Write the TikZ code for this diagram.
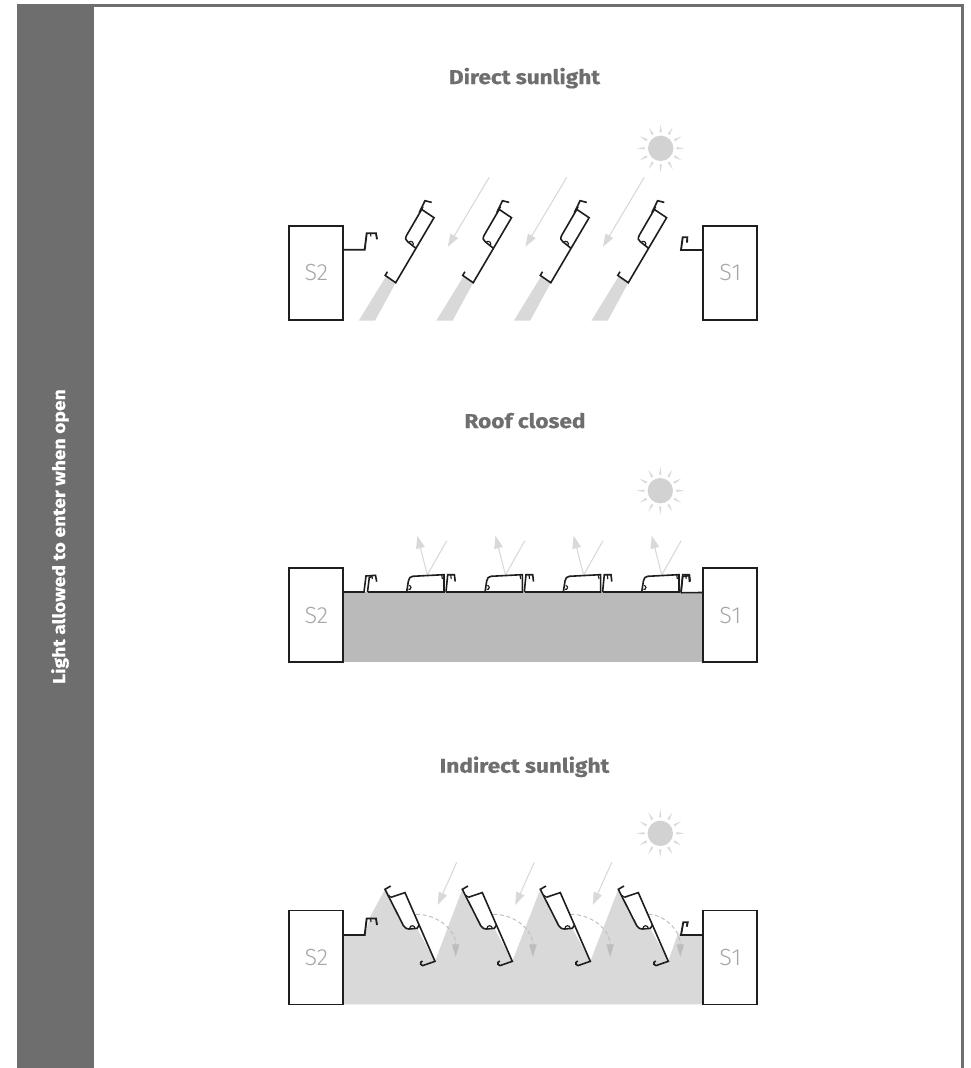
\documentclass[tikz,border=0pt]{standalone}
\usepackage{fontspec}
\setmainfont{Fira Sans}
\newfontfamily\widefont[FakeStretch=1.13,FakeBold=0.5]{Fira Sans}
\newfontfamily\lblfont{Fira Sans Light}
\usetikzlibrary{arrows.meta}
\definecolor{bar}{HTML}{6E6E6E}
\definecolor{ink}{HTML}{1E1E1E}
\definecolor{lite}{HTML}{D9D9D9}
\definecolor{sunc}{HTML}{D2D2D2}
\definecolor{roofc}{HTML}{BABABA}
\definecolor{labelc}{HTML}{A6A6A6}
\definecolor{dashc}{HTML}{BDBDBD}
\tikzset{
  framepart/.style={fill=bar,draw=none},
  titletext/.style={font=\widefont\bfseries\fontsize{15}{18}\selectfont,text=bar,inner sep=0pt,anchor=base},
  sidetext/.style={font=\widefont\bfseries\fontsize{12.8}{15}\selectfont,text=white,inner sep=0pt,rotate=90,anchor=base},
  boxlabel/.style={draw=ink,line width=1.25pt,fill=white,inner sep=0pt,font=\lblfont\fontsize{17.5}{20}\selectfont,text=labelc},
  profile/.style={draw=ink,line width=1.2pt,line join=miter},
  thick profile/.style={draw=ink,line width=1.4pt,line join=miter},
  thin profile/.style={draw=ink,line width=.85pt},
  lightfill/.style={fill=lite,draw=none},
  ray/.style={draw=lite,line width=.8pt,-{Triangle[length=9.5pt,width=6.5pt,fill=lite]}},
  rayplain/.style={draw=lite,line width=.8pt},
  dasharrow/.style={draw=dashc,line width=.7pt,dash pattern=on 3pt off 2pt,-{Triangle[length=9.5pt,width=5.5pt,fill=dashc,sep=0pt]}},
}
\newcommand{\mysun}[2]{%
  \begin{scope}[shift={(#1,#2)}]
    \fill[sunc] (0,0) circle (12.7);
    \foreach \a in {0,30,...,330}{
      \fill[lite,rotate=\a] (16,-1.2) -- (24,0) -- (16,1.2) -- cycle;
    }
  \end{scope}}
\newcommand{\slatup}[2]{% direct sunlight slat, anchor = lower corner
  \begin{scope}[shift={(#1,#2)}]
    \draw[profile] (-8.3,-11) -- (-10.5,-7.3) -- (0,0) -- (38.3,-65) -- (26,-73.3) -- (11,-47.5)
       .. controls (9.5,-44.5) and (9.5,-42.5) .. (12,-41) -- (19.5,-35);
    \draw[profile] (36,-80.3) -- (29.3,-82) -- (23.5,-70);
    \draw[thin profile] (12.95,-40.4) arc[start angle=218,end angle=398,radius=2.6];
    \draw[thin profile] (26,-73.3) -- (27.5,-76);
  \end{scope}}
\newcommand{\slatflat}[2]{% closed roof slat, anchor = lower left corner
  \begin{scope}[shift={(#1,#2)}]
    \draw[profile] (0,0) -- (1.7,-11) .. controls (2.3,-14) and (3.5,-15.5) .. (6,-15.7) -- (36.5,-17.3) -- (37.3,-17.3) -- (37.3,0) -- cycle;
    \draw[profile] (39.3,0) -- (41,-17.3) -- (47.7,-17.3) -- (48.5,-10.5);
    \draw[thin profile] (44,-17.3) -- (44.5,-13);
    \draw[thin profile] (35,-17) -- (35.7,-13);
    \draw[thin profile] (2.3,-6.5) arc[start angle=-90,end angle=110,radius=2];
  \end{scope}}
\newcommand{\slatdown}[2]{% indirect sunlight slat, anchor = lower right corner
  \begin{scope}[shift={(#1,#2)}]
    \draw[profile] (-12.5,-.3) -- (-14.3,1) -- (-14.3,3) -- (-12.3,4.3) -- (0,0) -- (-30,-68.7) -- (-44,-64);
    \draw[profile] (-44.3,-75.3) -- (-50,-72) -- (-31.5,-35.5) .. controls (-30,-33) and (-28,-32.3) .. (-26,-32.3) -- (-18,-33) -- (-15.7,-36.3);
    \draw[thin profile] (-25.3,-33) arc[start angle=180,end angle=360,radius=2.6];
    \draw[thin profile] (-44,-64) -- (-46.3,-66);
  \end{scope}}
\begin{document}
\begin{tikzpicture}[x=.75pt,y=-.75pt]
\useasboundingbox (0,0) rectangle (971,1068);
\fill[white] (0,0) rectangle (971,1068);
% frame
\path[framepart] (16.6,4) rectangle (94.3,1068);
\path[framepart] (94.3,4) rectangle (963.7,6.6);
\path[framepart] (961,4) rectangle (963.7,1068);
\node[sidetext] (side) at (65,536.5) {Light allowed to enter when open};
% ---------- Direct sunlight
\node[titletext] (t1) at (524.5,84) {Direct sunlight};
\foreach \i in {0,1,2,3}{
  \begin{scope}[xshift=\i*77.55*.75pt]
    \path[lightfill] (386,276.3) -- (395.7,282.7) -- (375,320.7) -- (358.7,320.7) -- cycle;
  \end{scope}
}
\foreach \i in {0,1,2}{
  \begin{scope}[xshift=\i*77.55*.75pt]
    \draw[ray] (489.2,177.3) -- (447.8,246.7);
  \end{scope}
}
\mysun{660.7}{148.3}
\node[boxlabel,minimum width=40.5pt,minimum height=70.5pt] (s2a) at (316.3,273) {S2};
\node[boxlabel,minimum width=40.5pt,minimum height=70.5pt] (s1a) at (730.3,273) {S1};
\coordinate (s2ah) at (364.7,249.7);
\coordinate (s1ah) at (681,250);
\draw[thick profile] (s2a.east |- s2ah) -- (s2ah) -- (366.7,233.3) -- (376,233.3) -- (377,239.3);
\draw[thin profile] (370.5,233.3) -- (371,236.5);
\draw[thick profile] (s1a.west |- s1ah) -- (s1ah) -- (682.7,237.3) -- (687.3,237.3) -- (687,242.7);
\slatup{395.7}{282.7}
\slatup{473.2}{282.7}
\slatup{550.8}{282.7}
\slatup{628.3}{282.7}
% ---------- Roof closed
\node[titletext] (t2) at (525,428) {Roof closed};
\path[fill=roofc] (343.3,592) rectangle (703.3,661.5);
\foreach \i in {0,1,2,3}{
  \begin{scope}[xshift=\i*78.15*.75pt]
    \draw[rayplain] (427.3,575) -- (446.7,540.7);
    \draw[ray] (427.3,575) -- (417.3,535.7);
  \end{scope}
}
\mysun{660.3}{490.7}
\node[boxlabel,minimum width=40.5pt,minimum height=70.5pt] (s2b) at (316.3,615.2) {S2};
\node[boxlabel,minimum width=40.5pt,minimum height=70.5pt] (s1b) at (730.3,615.2) {S1};
\coordinate (roofl) at (344,592);
\coordinate (roofr) at (703,592.5);
\draw[profile] (s2b.east |- roofl) -- (364,592) -- (366,576) -- (375.5,575.3) -- (376.7,581.7);
\draw[profile] (367.5,592) -- (369.3,577.5) -- (372,576.5);
\draw[thin profile] (372,575.5) -- (372.3,579);
\draw[profile] (367.5,592) -- (406.7,592) (446,592) -- (485,592) (524.5,592) -- (563.3,592) (602.8,592) -- (641.7,592) ;
\draw[profile] (681,592.7) -- (682.7,576.5) -- (689,575.7) -- (689.5,582);
\draw[profile] (681,592.7) -- (s1b.west |- roofr);
\slatflat{406.7}{592}
\slatflat{485}{592}
\slatflat{563.3}{592}
\slatflat{641.7}{592}
% ---------- Indirect sunlight
\node[titletext] (t3) at (524.5,772.7) {Indirect sunlight};
\path[lightfill] (343.3,1004.3) -- (343.3,935) -- (365,935) -- (370,917) -- (385,889.3)
  -- (403.5,925.8) -- (409,929) -- (417,928.3) -- (435,961.3) -- (462.3,889.3)
  -- (480.8,925.8) -- (486.3,929) -- (494.3,928.3) -- (512.3,961.3) -- (540.3,889.3)
  -- (558.8,925.8) -- (564.3,929) -- (572.3,928.3) -- (590.3,961.3) -- (618.3,889.3)
  -- (636.8,925.8) -- (642.3,929) -- (650.3,928.3) -- (668.3,961.3)
  -- (678,933) -- (681,935) -- (703.3,935) -- (703.3,1004.3) -- cycle;
\foreach \i in {0,1,2}{
  \begin{scope}[xshift=\i*77.5*.75pt]
    \draw[ray] (456.7,862.3) -- (437.7,905);
  \end{scope}
}
\foreach \i in {0,1,2}{
  \begin{scope}[xshift=\i*77.2*.75pt]
    \draw[dasharrow] (416,914.3) .. controls (438,914.3) and (455.7,930) .. (455.7,957);
  \end{scope}
}
\draw[dasharrow] (648.3,914.3) .. controls (664,914.3) and (680.3,930) .. (680.3,957);
\mysun{660.3}{833.3}
\node[boxlabel,minimum width=40.5pt,minimum height=70.5pt] (s2c) at (316.3,957.5) {S2};
\node[boxlabel,minimum width=40.5pt,minimum height=70.5pt] (s1c) at (730.3,957.5) {S1};
\coordinate (s2ch) at (364.7,935);
\coordinate (s1ch) at (681,935);
\draw[thick profile] (s2c.east |- s2ch) -- (s2ch) -- (366.7,918.5) -- (376,918.5) -- (377,925);
\draw[thin profile] (370.5,918.5) -- (371,922);
\draw[thick profile] (s1c.west |- s1ch) -- (s1ch) -- (683.3,922.3) -- (687.7,922.3) -- (686.7,926.7);
\slatdown{435}{961.3}
\slatdown{512.3}{961.3}
\slatdown{590.3}{961.3}
\slatdown{668.3}{961.3}
\end{tikzpicture}
\end{document}
